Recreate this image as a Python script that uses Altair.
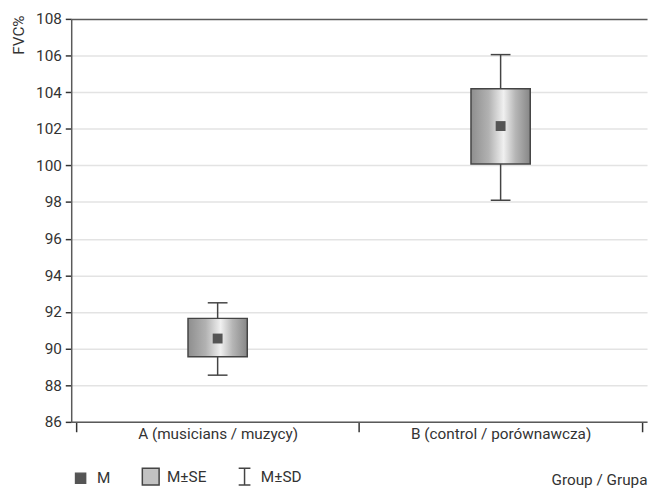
import altair as alt
import pandas as pd

# ---- data ----
groups = ["A (musicians / muzycy)", "B (control / porównawcza)"]
mean_vals = [90.55, 102.15]
se_low = [89.55, 100.08]
se_high = [91.65, 104.18]
sd_low = [88.55, 98.1]
sd_high = [92.5, 106.05]

y_ticks = list(range(86, 109, 2))
legend_items = ["M", "M±SE", "M±SD"]

FONT = "Roboto"
FS = 15.5
AX = "#5a5a5a"
TXT = "#333333"

df = pd.DataFrame({
    "group": groups,
    "mean": mean_vals,
    "se_low": se_low,
    "se_high": se_high,
    "sd_low": sd_low,
    "sd_high": sd_high,
})

# x-axis: category labels at band centres, ticks at band edges
label_expr = " : ".join(
    [f"datum.value == {i + 0.5} ? '{g}'" for i, g in enumerate(groups)]
) + " : ''"
x_tick_values = [i * 0.5 for i in range(2 * len(groups) + 1)]

x_scale = alt.Scale(domain=[0, len(groups)], nice=False, zero=False)
y_scale = alt.Scale(domain=[86, 108], nice=False, zero=False)

x_axis = alt.Axis(
    values=x_tick_values,
    labelExpr=label_expr,
    grid=False,
    domainColor=AX,
    domainWidth=1.5,
    tickColor="#333333",
    tickWidth=1.5,
    tickSize=10,
    tickOpacity={"condition": {"test": "datum.value % 1 != 0", "value": 0}, "value": 1},
    labelPadding=-5,
    labelOverlap=False,
    labelFlush=False,
    labelBound=False,
    labelLimit=0,
    labelFont=FONT,
    labelFontSize=FS,
    labelColor=TXT,
    title="Group / Grupa",
    titleFont=FONT,
    titleFontSize=FS,
    titleFontWeight="normal",
    titleColor=TXT,
    titleX=583,
    titleY=63,
    titleAlign="right",
    titleBaseline="alphabetic",
)

y_axis = alt.Axis(
    values=y_ticks,
    grid=True,
    gridColor={"condition": {"test": "datum.value == 108", "value": AX}, "value": "#e3e3e3"},
    gridWidth=1.5,
    domainColor=AX,
    domainWidth=1.5,
    tickColor="#333333",
    tickWidth=1.5,
    tickSize=6,
    labelPadding=4,
    labelFont=FONT,
    labelFontSize=FS,
    labelColor=TXT,
    title="FVC%",
    titleFont=FONT,
    titleFontSize=FS,
    titleFontWeight="normal",
    titleColor=TXT,
    titleAngle=-90,
    titleX=-48,
    titleY=-4,
    titleAlign="right",
    titleBaseline="alphabetic",
)

base = alt.Chart(df).transform_window(
    rn="row_number()"
).transform_calculate(
    pos="datum.rn - 0.5"
)

x_enc = alt.X("pos:Q", scale=x_scale, axis=x_axis)

whisker = base.mark_rule(color="#444444", strokeWidth=1.5).encode(
    x=x_enc,
    y=alt.Y("sd_low:Q", scale=y_scale, axis=y_axis),
    y2="sd_high:Q",
)

cap_low = base.mark_tick(orient="horizontal", size=20, thickness=1.5, color="#444444", opacity=1).encode(
    x=x_enc, y=alt.Y("sd_low:Q", scale=y_scale, axis=y_axis)
)
cap_high = base.mark_tick(orient="horizontal", size=20, thickness=1.5, color="#444444", opacity=1).encode(
    x=x_enc, y=alt.Y("sd_high:Q", scale=y_scale, axis=y_axis)
)

box_gradient = alt.Gradient(
    gradient="linear",
    x1=0, x2=1, y1=0, y2=0,
    stops=[
        alt.GradientStop(offset=0, color="#8e8e8e"),
        alt.GradientStop(offset=0.3, color="#b2b2b2"),
        alt.GradientStop(offset=0.55, color="#f0f0f0"),
        alt.GradientStop(offset=0.75, color="#b6b6b6"),
        alt.GradientStop(offset=1, color="#868686"),
    ],
)

box = base.mark_bar(size=60, fill=box_gradient, stroke="#444444", strokeWidth=1.5).encode(
    x=x_enc,
    y=alt.Y("se_low:Q", scale=y_scale, axis=y_axis),
    y2="se_high:Q",
)

mean_pt = base.mark_square(size=100, color="#555555", opacity=1).encode(
    x=x_enc, y=alt.Y("mean:Q", scale=y_scale, axis=y_axis)
)

# legend (built by Vega from shape / fill / stroke scales; this layer draws no marks)
legend_def = alt.Legend(
    title=None,
    orient="none",
    direction="horizontal",
    legendX=0,
    legendY=454,
    padding=0,
    columnPadding=29,
    symbolSize=289,
    symbolStrokeWidth=1.5,
    symbolOpacity=1,
    labelOffset=7,
    labelFont=FONT,
    labelFontSize=FS,
    labelColor=TXT,
    labelExpr="datum.value == 'M' ? 'M\u2002\u2002' : datum.label",
)

legend_layer = alt.Chart(pd.DataFrame({"item": legend_items})).transform_filter(
    "false"
).mark_point(opacity=1, strokeWidth=1.5).encode(
    shape=alt.Shape(
        "item:N",
        scale=alt.Scale(
            domain=legend_items,
            range=[
                "M-0.6,-0.6H0.6V0.6H-0.6Z",
                "square",
                "M-0.7,-1H0.7M0,-1V1M-0.7,1H0.7",
            ],
        ),
        legend=legend_def,
    ),
    fill=alt.Fill(
        "item:N",
        scale=alt.Scale(domain=legend_items, range=["#555555", "#c2c2c2", "transparent"]),
        legend=legend_def,
    ),
    stroke=alt.Stroke(
        "item:N",
        scale=alt.Scale(domain=legend_items, range=["#555555", "#444444", "#444444"]),
        legend=legend_def,
    ),
)

chart = alt.layer(whisker, cap_low, cap_high, box, mean_pt, legend_layer).properties(
    width=583,
    height=408,
    autosize=alt.AutoSizeParams(type="none"),
    padding={"left": 64, "top": 8, "right": 3, "bottom": 70},
    background="white",
).configure_view(stroke=None)

chart.save("out.html", embed_options={"renderer": "svg", "actions": False})
